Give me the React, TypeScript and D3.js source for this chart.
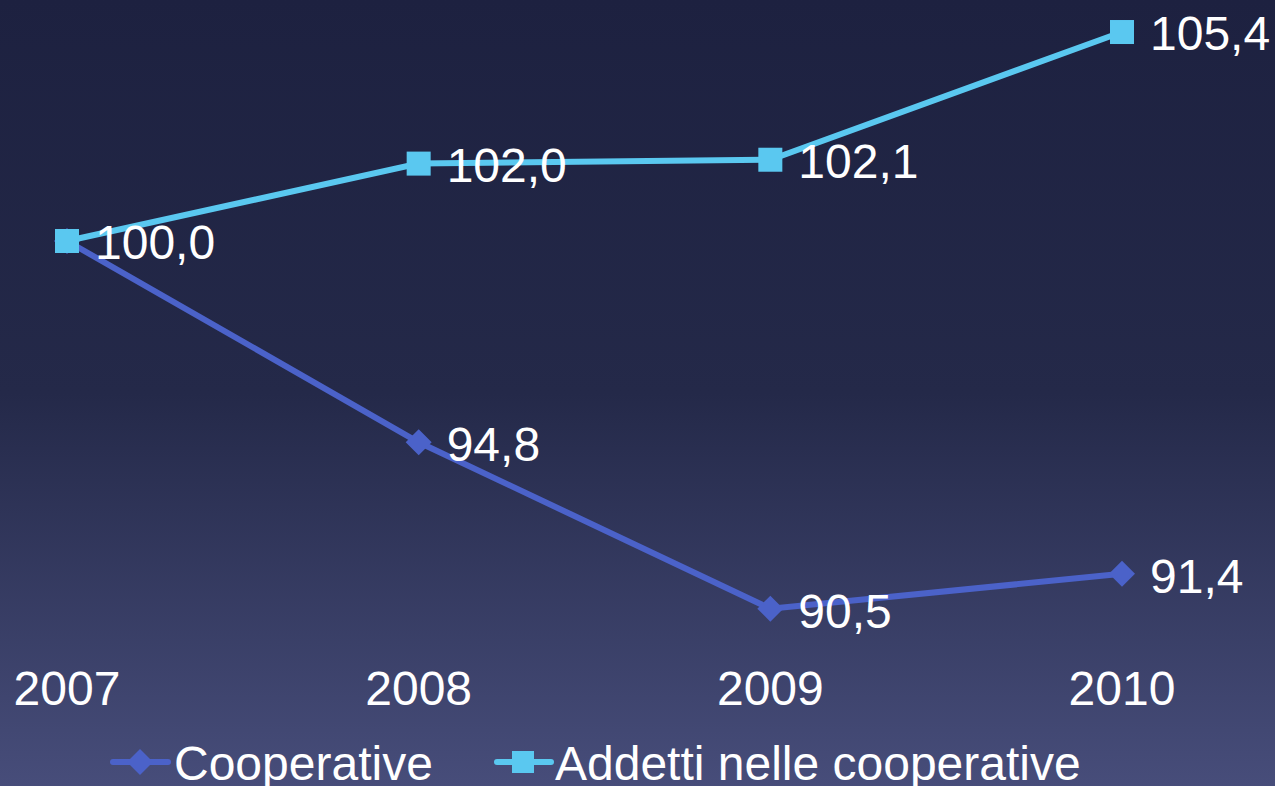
import { useMemo } from 'react';
import * as d3 from 'd3';

const W = 1275;
const H = 786;

const YEARS = ['2007', '2008', '2009', '2010'];
const COOPERATIVE = [100.0, 94.8, 90.5, 91.4];
const ADDETTI = [100.0, 102.0, 102.1, 105.4];
const SERIES_NAMES = ['Cooperative', 'Addetti nelle cooperative'];

const C_COOP = '#4b62c9';
const C_ADD = '#5ac8f0';
const FONT = 'Liberation Sans, Arial, sans-serif';
const FS = 48;

const fmt = (v: number) => v.toFixed(1).replace('.', ',');

export default function App() {
  const x = useMemo(
    () => d3.scalePoint<string>().domain(YEARS).range([67, 1122]),
    []
  );
  const y = useMemo(() => d3.scaleLinear().domain([90, 106]).range([628, 8.8]), []);

  const line = d3
    .line<number>()
    .x((_, i) => x(YEARS[i]) as number)
    .y((d) => y(d));

  const diamond = (cx: number, cy: number, s: number) =>
    `${cx},${cy - s} ${cx + s},${cy} ${cx},${cy + s} ${cx - s},${cy}`;

  return (
    <div style={{ position: 'absolute', left: 0, top: 0 }}>
      <svg width={W} height={H} style={{ display: 'block' }}>
        <defs>
          <linearGradient id="bg" x1="0" y1="0" x2="0" y2="1">
            <stop offset="0" stopColor="#1d2140" />
            <stop offset="0.5" stopColor="#242949" />
            <stop offset="1" stopColor="#474d7a" />
          </linearGradient>
        </defs>
        <rect width={W} height={H} fill="url(#bg)" />

        {/* Cooperative */}
        <path d={line(COOPERATIVE) ?? ''} fill="none" stroke={C_COOP} strokeWidth={6} />
        {COOPERATIVE.map((v, i) => (
          <polygon key={'cd' + i} points={diamond(x(YEARS[i]) as number, y(v), 13)} fill={C_COOP} />
        ))}

        {/* Addetti */}
        <path d={line(ADDETTI) ?? ''} fill="none" stroke={C_ADD} strokeWidth={6} />
        {ADDETTI.map((v, i) => (
          <rect
            key={'as' + i}
            x={(x(YEARS[i]) as number) - 12}
            y={y(v) - 12}
            width={24}
            height={24}
            fill={C_ADD}
          />
        ))}

        {/* Data labels */}
        {COOPERATIVE.slice(1).map((v, i) => (
          <text
            key={'cl' + i}
            x={(x(YEARS[i + 1]) as number) + 28}
            y={y(v) + 19}
            fill="#ffffff"
            fontFamily={FONT}
            fontSize={FS}
          >
            {fmt(v)}
          </text>
        ))}
        {ADDETTI.map((v, i) => (
          <text
            key={'al' + i}
            x={(x(YEARS[i]) as number) + 28}
            y={y(v) + 18}
            fill="#ffffff"
            fontFamily={FONT}
            fontSize={FS}
          >
            {fmt(v)}
          </text>
        ))}

        {/* X axis labels */}
        {YEARS.map((yr) => (
          <text
            key={yr}
            x={x(yr) as number}
            y={705}
            textAnchor="middle"
            fill="#ffffff"
            fontFamily={FONT}
            fontSize={FS}
          >
            {yr}
          </text>
        ))}

        {/* Legend */}
        <g>
          <line x1={113} x2={168} y1={762} y2={762} stroke={C_COOP} strokeWidth={6} strokeLinecap="round" />
          <polygon points={diamond(140, 762, 13)} fill={C_COOP} />
          <text x={174} y={780} fill="#ffffff" fontFamily={FONT} fontSize={FS}>
            {SERIES_NAMES[0]}
          </text>
          <line x1={497} x2={551} y1={762} y2={762} stroke={C_ADD} strokeWidth={6} strokeLinecap="round" />
          <rect x={512} y={751} width={22} height={22} fill={C_ADD} />
          <text x={555} y={780} fill="#ffffff" fontFamily={FONT} fontSize={FS}>
            {SERIES_NAMES[1]}
          </text>
        </g>
      </svg>
    </div>
  );
}
